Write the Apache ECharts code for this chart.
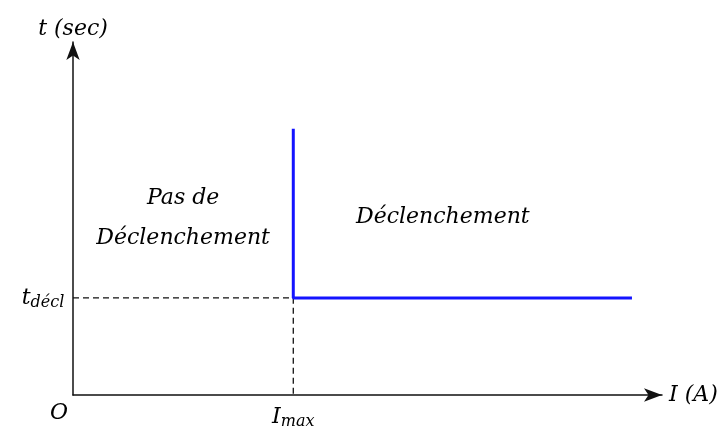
<!DOCTYPE html>
<html>
<head>
<meta charset="utf-8">
<script src="https://cdn.jsdelivr.net/npm/echarts@6/dist/echarts.min.js"></script>
<style>
  html, body { margin: 0; padding: 0; background: #fff; }
  #chart { width: 728px; height: 428px; }
</style>
</head>
<body>
<div id="chart"></div>
<script>
// trip curve (current I in % of axis, time t in % of axis)
var curveI = [37.4, 37.4, 94.9];
var curveT = [75.4, 27.5, 27.5];
// dashed guides to the axes
var guideI = [0, 37.4, 37.4];
var guideT = [27.5, 27.5, 0];
// zone captions: [I, t, text]
var zones = [
  [18.7, 50.1, 'Pas de\nDéclenchement'],
  [62.8, 50.4, 'Déclenchement']
];

var font = '"DejaVu Serif", serif';
var ink = '#000';

function pairs(xs, ys) {
  return xs.map(function (x, i) { return [x, ys[i]]; });
}

var subRich = {
  m: { fontFamily: font, fontStyle: 'italic', fontSize: 22, color: ink },
  s: { fontFamily: font, fontStyle: 'italic', fontSize: 16, color: ink, padding: [9, 0, 0, 0] }
};

// axis marks: t_décl on the t axis, I_max on the I axis
var marks = [
  { value: [guideI[0], guideT[0]], label: { show: true, position: 'left', distance: 8, offset: [-22, 0], formatter: '{m|t}{s|décl}', rich: subRich } },
  { value: [guideI[2], guideT[2]], label: { show: true, position: 'bottom', distance: 4, offset: [0, -2], formatter: '{m|I}{s|max}', rich: subRich } }
];

var chart = echarts.init(document.getElementById('chart'), null, { renderer: 'canvas' });
chart.setOption({
  animation: false,
  backgroundColor: '#fff',
  grid: { left: 73, right: 66, top: 42, bottom: 33 },
  xAxis: {
    type: 'value', min: 0, max: 100,
    name: 'I (A)', nameLocation: 'end', nameGap: 7,
    nameTextStyle: { fontFamily: font, fontStyle: 'italic', fontSize: 22, color: ink },
    axisLine: { lineStyle: { color: '#111', width: 1.5 }, symbol: ['none', 'arrow'], symbolSize: [10, 18] },
    axisTick: { show: false }, axisLabel: { show: false }, splitLine: { show: false }
  },
  yAxis: {
    type: 'value', min: 0, max: 100,
    name: 't (sec)', nameLocation: 'end', nameGap: 2,
    nameTextStyle: { fontFamily: font, fontStyle: 'italic', fontSize: 22, color: ink, align: 'center' },
    axisLine: { lineStyle: { color: '#111', width: 1.5 }, symbol: ['none', 'arrow'], symbolSize: [10, 18] },
    axisTick: { show: false }, axisLabel: { show: false }, splitLine: { show: false }
  },
  graphic: [{
    type: 'text', left: 50, top: 402,
    style: { text: 'O', font: 'italic 22px ' + font, fill: ink }
  }],
  series: [{
    type: 'line',
    data: pairs(guideI, guideT),
    symbol: 'none',
    lineStyle: { color: '#111', width: 1.3, type: [6, 4] },
    z: 1
  }, {
    type: 'line',
    data: pairs(curveI, curveT),
    symbol: 'none',
    lineStyle: { color: '#1414ff', width: 3 },
    z: 3
  }, {
    type: 'scatter',
    data: zones.map(function (z) { return { value: [z[0], z[1]], name: z[2] }; }).concat(marks),
    symbolSize: 0,
    itemStyle: { opacity: 1 },
    label: {
      show: true, position: 'inside', formatter: '{b}',
      fontFamily: font, fontStyle: 'italic', fontSize: 22, color: ink,
      lineHeight: 40, align: 'center'
    },
    z: 5
  }]
});
</script>
</body>
</html>
